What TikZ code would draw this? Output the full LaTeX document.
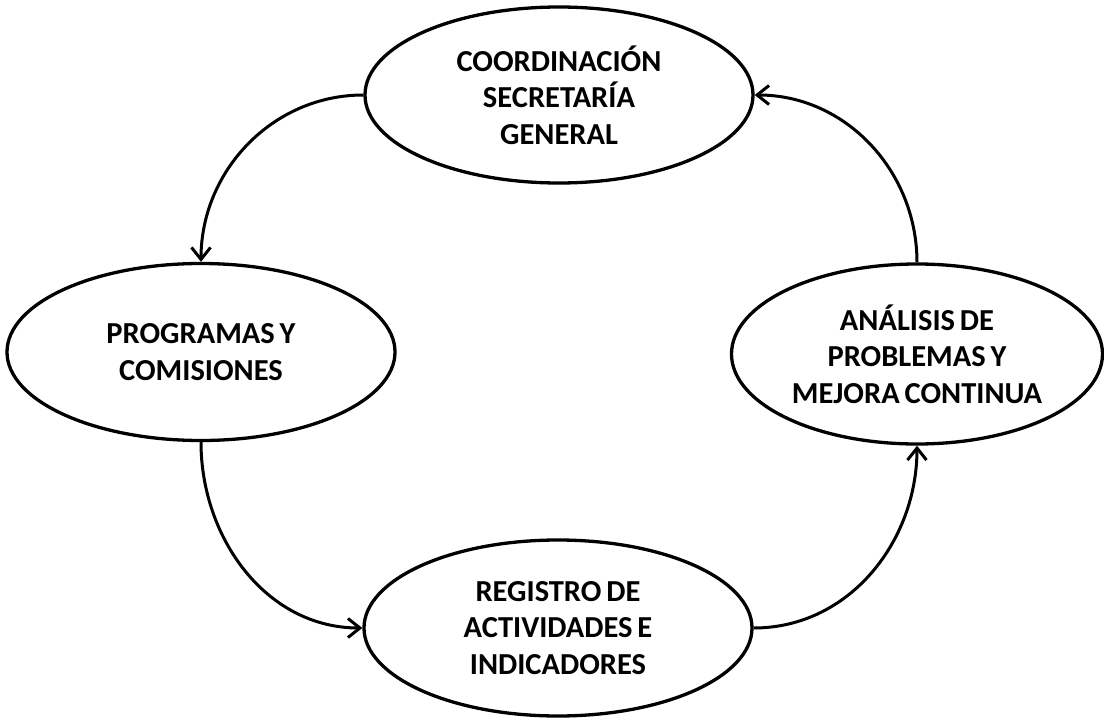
\documentclass[tikz,border=0pt]{standalone}
\usepackage{fontspec}
\setmainfont{Carlito}
\usetikzlibrary{shapes.geometric,arrows.meta}
\newcommand\cycfont{\bfseries\fontsize{30.5}{36.5}\selectfont\spaceskip=0.16em\relax}
\tikzset{
  cyc/.style={ellipse, draw=black, line width=3.3pt, inner sep=0pt, align=center,
    font=\cycfont},
  flow/.style={line width=3pt, -{Straight Barb[length=12pt,width=19pt,line width=3pt]}}
}
\begin{document}
\begin{tikzpicture}[x=1pt,y=1pt]
\useasboundingbox (0,0) rectangle (1104,-720);
\node[cyc, minimum width=388pt, minimum height=176pt] (top) at (559,-95)
  {COORDINACIÓN\\SECRETARÍA\\GENERAL};
\node[cyc, minimum width=388pt, minimum height=177pt] (left) at (201,-352)
  {PROGRAMAS Y\\COMISIONES};
\node[cyc, minimum width=371pt, minimum height=180pt] (right) at (917,-354)
  {ANÁLISIS DE\\PROBLEMAS Y\\MEJORA CONTINUA};
\node[cyc, minimum width=388pt, minimum height=176pt] (bot) at (558,-628)
  {REGISTRO DE\\ACTIVIDADES E\\INDICADORES};
\draw[flow] (top.west) to[out=180,in=90] (left.north);
\draw[flow] (left.south) to[out=-90,in=180] (bot.west);
\draw[flow] (bot.east) to[out=0,in=-90] (right.south);
\draw[flow] (right.north) to[out=90,in=0] (top.east);
\end{tikzpicture}
\end{document}
